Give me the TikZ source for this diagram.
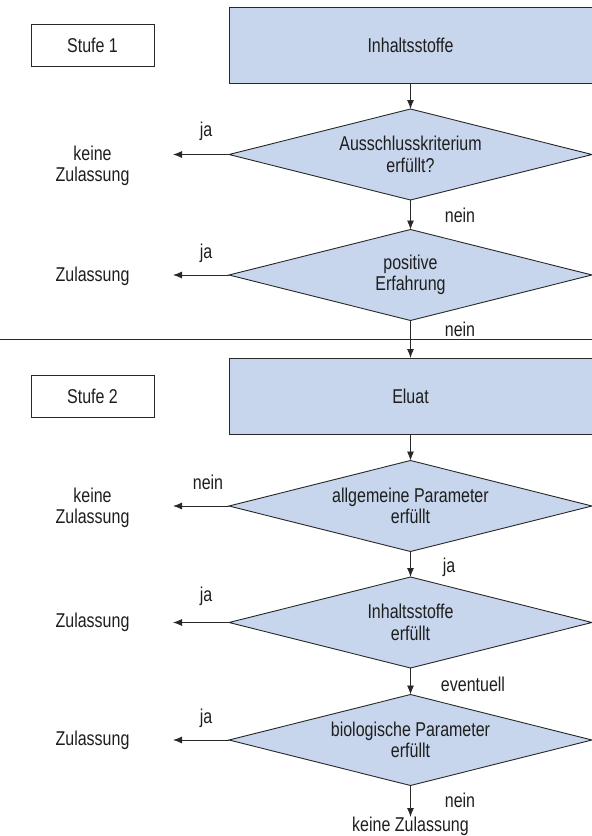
\documentclass[tikz,border=0pt]{standalone}
\usepackage{fontspec}
\setmainfont[FakeStretch=0.8]{Liberation Sans}
\usetikzlibrary{shapes.geometric,arrows.meta}
\definecolor{bl}{RGB}{199,214,236}
\definecolor{lc}{RGB}{40,40,40}
\definecolor{tc}{RGB}{30,30,30}
\begin{document}
\begin{tikzpicture}[x=1pt,y=-1pt,
  every node/.style={text=tc,font=\fontsize{20}{21.5}\selectfont},
  mainbox/.style={draw=lc,line width=0.9pt,fill=bl,minimum width=363pt,minimum height=76pt,inner sep=0pt,outer sep=0pt},
  stufebox/.style={draw=lc,line width=0.9pt,fill=white,minimum width=123pt,minimum height=42pt,inner sep=0pt,outer sep=0pt},
  dec/.style={diamond,draw=lc,line width=0.9pt,fill=bl,minimum width=363pt,minimum height=91pt,inner sep=0pt,outer sep=0pt,aspect=4,align=center},
  res/.style={align=center,inner sep=1pt},
  lab/.style={inner sep=0pt},
  arr/.style={draw=lc,line width=0.9pt,-{Latex[length=9pt,width=7pt]}}]
\useasboundingbox (0,0) rectangle (592,836);
% Stufe 1
\node[stufebox] (s1) at (92.5,45) {Stufe 1};
\node[mainbox] (b1) at (410.5,45) {Inhaltsstoffe};
\node[dec] (d1) at (410.5,154.5) {Ausschlusskriterium\\erfüllt?};
\node[dec] (d2) at (410.5,275) {positive\\Erfahrung};
\node[res] (r1) at (92.5,166) {keine\\Zulassung};
\node[res] (r2) at (92.5,276) {Zulassung};
\coordinate (e1) at (173,154.5);
\coordinate (e2) at (173,275);
\draw[arr] (b1) -- (d1);
\draw[arr] (d1) -- (d2);
\draw[arr] (d1.west) -- (e1);
\draw[arr] (d2.west) -- (e2);
\node[lab] (j1) at (206,131) {ja};
\node[lab] (j2) at (206,253) {ja};
\node[lab] (n1) at (460,215) {nein};
% separator
\coordinate (sl) at (0,339);
\coordinate (sr) at (592,339);
\draw[lc,line width=0.8pt] (sl) -- (sr);
\node[lab] (n2) at (460,329) {nein};
% Stufe 2
\node[stufebox] (s2) at (92.5,396.5) {Stufe 2};
\node[mainbox] (b2) at (410.5,396) {Eluat};
\draw[arr] (d2) -- (b2);
\node[dec] (d3) at (410.5,506) {allgemeine Parameter\\erfüllt};
\node[dec] (d4) at (410.5,622.5) {Inhaltsstoffe\\erfüllt};
\node[dec] (d5) at (410.5,740) {biologische Parameter\\erfüllt};
\draw[arr] (b2) -- (d3);
\draw[arr] (d3) -- (d4);
\draw[arr] (d4) -- (d5);
\node[res] (r3) at (92.5,508) {keine\\Zulassung};
\node[res] (r4) at (92.5,622) {Zulassung};
\node[res] (r5) at (92.5,740) {Zulassung};
\coordinate (e3) at (173,506);
\coordinate (e4) at (173,622.5);
\coordinate (e5) at (173,740);
\draw[arr] (d3.west) -- (e3);
\draw[arr] (d4.west) -- (e4);
\draw[arr] (d5.west) -- (e5);
\node[lab] (n3) at (208,482) {nein};
\node[lab] (j3) at (206,596) {ja};
\node[lab] (j4) at (206,718) {ja};
\node[lab] (j5) at (449,567) {ja};
\node[lab] (ev) at (473,684) {eventuell};
\node[lab] (n4) at (460,800) {nein};
\node[res,anchor=north,inner sep=0pt] (kz) at (410.5,817) {keine Zulassung};
\draw[arr] (d5.south) -- (kz.north);
\end{tikzpicture}
\end{document}
